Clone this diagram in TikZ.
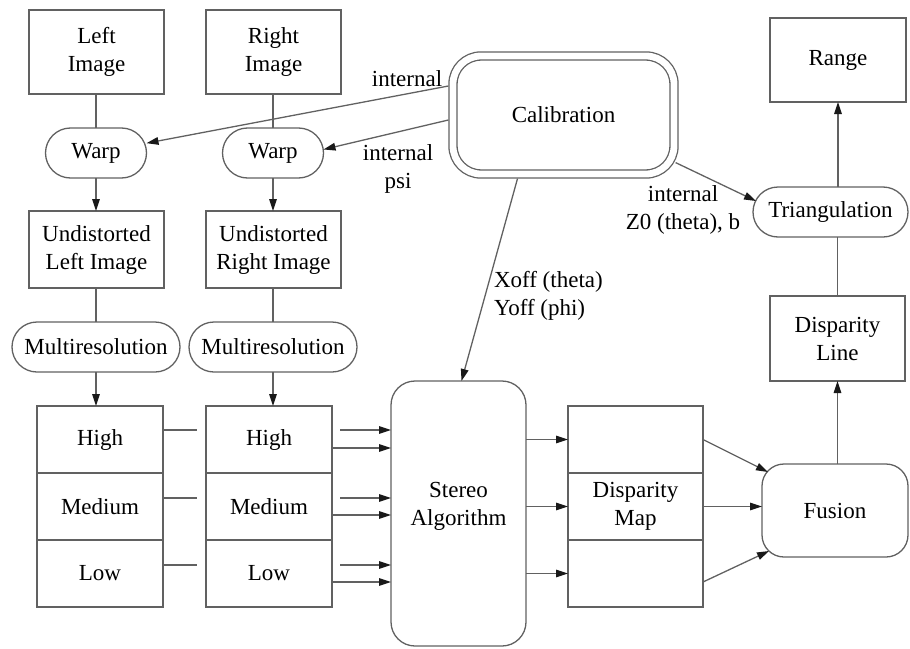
\documentclass[tikz,border=0pt]{standalone}
\usepackage{fontspec}
\setmainfont{Liberation Serif}
\usetikzlibrary{arrows.meta,calc}
\begin{document}
\begin{tikzpicture}[x=0.5pt,y=-0.5pt,
  every node/.style={font=\fontsize{11.5}{14}\selectfont, align=center, inner sep=0pt, outer sep=0pt},
  ln/.style={draw=black!62, line width=0.65pt},
  arr/.style={ln, -{Triangle[length=6pt,width=3.8pt,color=black!90]}},
  box/.style={ln, rectangle, minimum width=67.5pt},
  pill/.style={ln, rectangle, rounded corners=12.5pt, minimum height=25pt},
  cell/.style={ln, rectangle, minimum height=33.5pt}
]
\useasboundingbox (0,0) rectangle (910,648);

% left / right columns
\node[box, minimum height=42pt] (limg) at (96.5,52) {Left\\Image};
\node[box, minimum height=42pt] (rimg) at (273.5,52) {Right\\Image};
\node[pill, minimum width=50.5pt] (lwarp) at (96,153) {Warp};
\node[pill, minimum width=50.5pt] (rwarp) at (273,153) {Warp};
\node[box, minimum height=38.5pt] (lund) at (96.5,249.5) {Undistorted\\Left Image};
\node[box, minimum height=38.5pt] (rund) at (273.5,249.5) {Undistorted\\Right Image};
\node[pill, minimum width=84pt] (lmr) at (96,347) {Multiresolution};
\node[pill, minimum width=84pt] (rmr) at (273,347) {Multiresolution};

\node[cell, minimum width=63pt] (lh) at (100,439.5) {High};
\node[cell, minimum width=63pt] (lm) at (100,506.5) {Medium};
\node[cell, minimum width=63pt] (ll) at (100,573.5) {Low};
\node[cell, minimum width=63pt] (rh) at (269,439.5) {High};
\node[cell, minimum width=63pt] (rm) at (269,506.5) {Medium};
\node[cell, minimum width=63pt] (rl) at (269,573.5) {Low};

% stereo
\node[ln, rectangle, rounded corners=12pt, minimum width=67.5pt, minimum height=132.5pt,
      label={[yshift=3.75pt]center:Stereo\\Algorithm}] (stereo) at (458.5,513.5) {};

% disparity map
\node[cell, minimum width=67.5pt] (dt) at (635.5,439.5) {};
\node[cell, minimum width=67.5pt] (dm) at (635.5,506.5) {Disparity\\Map};
\node[cell, minimum width=67.5pt] (db) at (635.5,573.5) {};

% right column
\node[ln, rectangle, rounded corners=11pt, minimum width=73pt, minimum height=46.5pt] (fusion) at (835,510.5) {Fusion};
\node[box, minimum height=42.5pt] (dline) at (837.5,338.5) {Disparity\\Line};
\node[pill, minimum width=77.5pt] (tri) at (830.5,212) {Triangulation};
\node[box, minimum height=42pt, minimum width=68pt] (range) at (838,60) {Range};

% calibration
\node[ln, rectangle, double, double distance=3.4pt, rounded corners=14pt,
      minimum width=110.5pt, minimum height=59pt, outer sep=2.3pt] (cal) at (563.5,115) {Calibration};

% column connectors
\draw[ln] (lwarp.north |- limg.south) -- (lwarp.north);
\draw[arr] (lwarp.south) -- (lwarp.south |- lund.north);
\draw[ln] (lmr.north |- lund.south) -- (lmr.north);
\draw[arr] (lmr.south) -- (lmr.south |- lh.north);
\draw[ln] (rwarp.north |- rimg.south) -- (rwarp.north);
\draw[arr] (rwarp.south) -- (rwarp.south |- rund.north);
\draw[ln] (rmr.north |- rund.south) -- (rmr.north);
\draw[arr] (rmr.south) -- (rmr.south |- rh.north);

% left stack lines (interrupted by right stack)
\coordinate (g1) at (197,430);
\coordinate (g2) at (197,498);
\coordinate (g3) at (197,565);
\coordinate (h1) at (340,430);
\coordinate (h2) at (340,498);
\coordinate (h3) at (340,565);
\draw[ln] (lh.east |- g1) -- (g1);
\draw[ln] (lm.east |- g2) -- (g2);
\draw[ln] (ll.east |- g3) -- (g3);
\draw[arr] (h1) -- (stereo.west |- h1);
\draw[arr] (h2) -- (stereo.west |- h2);
\draw[arr] (h3) -- (stereo.west |- h3);

% right stack lines
\coordinate (y1) at (0,448);
\coordinate (y2) at (0,515);
\coordinate (y3) at (0,582);
\draw[arr] (rh.east |- y1) -- (stereo.west |- y1);
\draw[arr] (rm.east |- y2) -- (stereo.west |- y2);
\draw[arr] (rl.east |- y3) -- (stereo.west |- y3);

% stereo to disparity
\draw[arr] (stereo.east |- dt.west) -- (dt.west);
\draw[arr] (stereo.east |- dm.west) -- (dm.west);
\draw[arr] (stereo.east |- db.west) -- (db.west);

% disparity to fusion
\draw[arr] (dt.east) -- ($(fusion.north west)+(6,8)$);
\draw[arr] (dm.east) -- (fusion.west |- dm.east);
\draw[arr] ($(db.east)+(0,8.5)$) -- ($(fusion.south west)+(7,-6)$);

% right column connectors
\draw[arr] (fusion.north -| dline.south) -- (dline.south);
\draw[ln] (dline.north) -- (dline.north |- tri.south);
\draw[arr] (range.south |- tri.north) -- (range.south);

% calibration connectors
\draw[arr] ($(cal.west)+(0,-29)$) -- (lwarp.11);
\draw[arr] ($(cal.west)+(0,5)$) -- (rwarp.4);
\draw[arr] ($(cal.south east)+(-3,-16)$) -- ($(tri.west)+(3,-11)$);
\draw[arr] ($(cal.south)+(-46,0)$) -- ($(stereo.north)+(3,0)$);

% labels
\node (l1) at (407,79) {internal};
\node (l2) at (398,169) {internal\\psi};
\node (l3) at (683,210) {internal\\Z0 (theta), b};
\node[anchor=west, align=left] (l4) at (494,296) {Xoff (theta)\\Yoff (phi)};
\end{tikzpicture}
\end{document}
